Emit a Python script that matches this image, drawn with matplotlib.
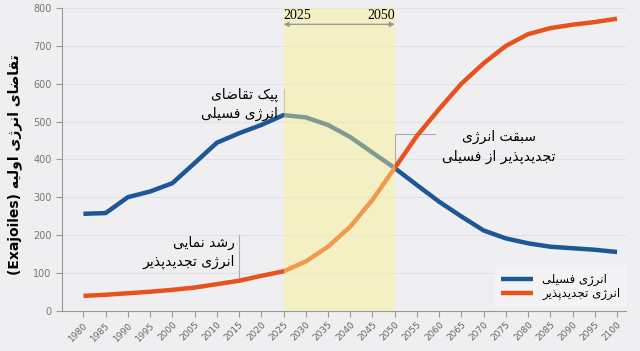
import matplotlib
matplotlib.use("Agg")
import matplotlib.pyplot as plt

years = [1980, 1985, 1990, 1995, 2000, 2005, 2010, 2015, 2020, 2025,
         2030, 2035, 2040, 2045, 2050, 2055, 2060, 2065, 2070, 2075,
         2080, 2085, 2090, 2095, 2100]
fossil = [256, 258, 300, 315, 337, 390, 444, 469, 491, 517,
          511, 491, 459, 418, 377, 332, 288, 249, 212, 191,
          178, 169, 165, 161, 155]
renew = [39, 42, 46, 50, 55, 61, 70, 79, 92, 104,
         130, 169, 222, 293, 377, 462, 533, 600, 654, 700,
         731, 747, 756, 763, 772]
y_ticks = [0, 100, 200, 300, 400, 500, 600, 700, 800]

ylabel_fa = "تقاضای انرژی اولیه"
ylabel_en = "(Exajoiles)"
lbl_fossil = "انرژی فسیلی"
lbl_renew = "انرژی تجدیدپذیر"
note_peak = ["پیک تقاضای", "انرژی فسیلی"]
note_cross = ["سبقت انرژی", "تجدیدپذیر از فسیلی"]
note_growth = ["رشد نمایی", "انرژی تجدیدپذیر"]

# matplotlib has no arabic shaping, so pick the presentation forms by hand
# (isolated, final, initial, medial)
FORMS = {
    "ا": (0xFE8D, 0xFE8E, None, None),
    "ب": (0xFE8F, 0xFE90, 0xFE91, 0xFE92),
    "پ": (0xFB56, 0xFB57, 0xFB58, 0xFB59),
    "ت": (0xFE95, 0xFE96, 0xFE97, 0xFE98),
    "ج": (0xFE9D, 0xFE9E, 0xFE9F, 0xFEA0),
    "د": (0xFEA9, 0xFEAA, None, None),
    "ذ": (0xFEAB, 0xFEAC, None, None),
    "ر": (0xFEAD, 0xFEAE, None, None),
    "ز": (0xFEAF, 0xFEB0, None, None),
    "ژ": (0xFB8A, 0xFB8B, None, None),
    "س": (0xFEB1, 0xFEB2, 0xFEB3, 0xFEB4),
    "ش": (0xFEB5, 0xFEB6, 0xFEB7, 0xFEB8),
    "ض": (0xFEBD, 0xFEBE, 0xFEBF, 0xFEC0),
    "ف": (0xFED1, 0xFED2, 0xFED3, 0xFED4),
    "ق": (0xFED5, 0xFED6, 0xFED7, 0xFED8),
    "ک": (0xFB8E, 0xFB8F, 0xFB90, 0xFB91),
    "ل": (0xFEDD, 0xFEDE, 0xFEDF, 0xFEE0),
    "م": (0xFEE1, 0xFEE2, 0xFEE3, 0xFEE4),
    "ن": (0xFEE5, 0xFEE6, 0xFEE7, 0xFEE8),
    "ه": (0xFEE9, 0xFEEA, 0xFEEB, 0xFEEC),
    "و": (0xFEED, 0xFEEE, None, None),
    "ی": (0xFBFC, 0xFBFD, 0xFBFE, 0xFBFF),
}


def fa(text):
    out = []
    for i, ch in enumerate(text):
        if ch not in FORMS:
            out.append(ch)
            continue
        prev = text[i - 1] if i > 0 else ""
        nxt = text[i + 1] if i + 1 < len(text) else ""
        f = FORMS[ch]
        jp = prev in FORMS and FORMS[prev][2] is not None
        jn = f[2] is not None and nxt in FORMS
        if jp and jn:
            c = f[3]
        elif jn:
            c = f[2]
        elif jp:
            c = f[1]
        else:
            c = f[0]
        out.append(chr(c))
    return "".join(out)[::-1]


def fa_lines(lines):
    return "\n".join(fa(s) for s in lines)


BLUE = "#1d5795"
ORANGE = "#e8521f"
BG = "#efeff2"

fig = plt.figure(figsize=(6.4, 3.51), dpi=100, facecolor=BG)
ax = fig.add_axes([0.097, 0.115, 0.881, 0.862], facecolor=BG)

ax.plot(years, fossil, color=BLUE, lw=3.2, solid_capstyle="butt", label=fa(lbl_fossil), zorder=3)
ax.plot(years, renew, color=ORANGE, lw=3.2, solid_capstyle="butt", label=fa(lbl_renew), zorder=3)
ax.axvspan(2025, 2050, color="#fbf28e", alpha=0.45, lw=0, zorder=4)

ax.set_xlim(1975.2, 2102)
ax.set_ylim(0, 800)
ax.set_xticks(years)
ax.set_xticklabels([str(y) for y in years], rotation=45, ha="right",
                   rotation_mode="anchor", fontsize=6.5, color="#666666")
ax.set_yticks(y_ticks)
ax.set_yticklabels([str(v) for v in y_ticks], fontsize=7, color="#777777")
ax.tick_params(axis="both", length=4, width=0.8, color="#999999")
ax.tick_params(axis="x", pad=3)
for s in ["top", "right"]:
    ax.spines[s].set_visible(False)
for s in ["left", "bottom"]:
    ax.spines[s].set_color("#999999")
    ax.spines[s].set_linewidth(0.8)
ax.yaxis.grid(True, color="#e2e2e6", lw=0.8)
ax.set_axisbelow(True)

# y label (ltr part first, since rotated text reads bottom to top)
fig.text(0.023, 0.53, ylabel_en + " " + fa(ylabel_fa), rotation=90,
         ha="center", va="center", fontsize=10, fontweight="bold",
         family="DejaVu Sans")

# 2025 - 2050 band marker
ax.text(2025, 780, "2025", ha="left", va="center", fontsize=10,
        family="Liberation Serif", zorder=5)
ax.text(2050, 780, "2050", ha="right", va="center", fontsize=10,
        family="Liberation Serif", zorder=5)
ax.annotate("", xy=(2025, 757), xytext=(2050, 757),
            arrowprops=dict(arrowstyle="<|-|>", color="#999999", lw=1,
                            mutation_scale=7, shrinkA=0, shrinkB=0), zorder=5)

# notes
ax.plot([2025, 2025], [517, 585], color="#aaaaaa", lw=0.8, zorder=2)
ax.text(2023.8, 590, fa_lines(note_peak), ha="right", va="top",
        fontsize=10, linespacing=1.45, zorder=5)

ax.plot([2050, 2050, 2059], [377, 467, 467], color="#aaaaaa", lw=0.8, zorder=2)
ax.text(2073.5, 477, fa_lines(note_cross), ha="center", va="top",
        fontsize=10, linespacing=1.45, zorder=5)

ax.plot([2015, 2015], [82, 200], color="#aaaaaa", lw=0.8, zorder=2)
ax.text(2014.0, 197, fa_lines(note_growth), ha="right", va="top",
        fontsize=10, linespacing=1.45, zorder=5)

leg = ax.legend(loc="lower right", bbox_to_anchor=(632 / 640, 1 - 312 / 351),
                bbox_transform=fig.transFigure, fontsize=8.5, frameon=True,
                fancybox=False, edgecolor="none", facecolor="#f3f3f5",
                framealpha=1, handlelength=2.7, handletextpad=0.8,
                labelspacing=0.1, borderpad=0.5)
for h in leg.get_lines():
    h.set_linewidth(3.2)

fig.savefig("out.png", dpi=100, facecolor=BG)
